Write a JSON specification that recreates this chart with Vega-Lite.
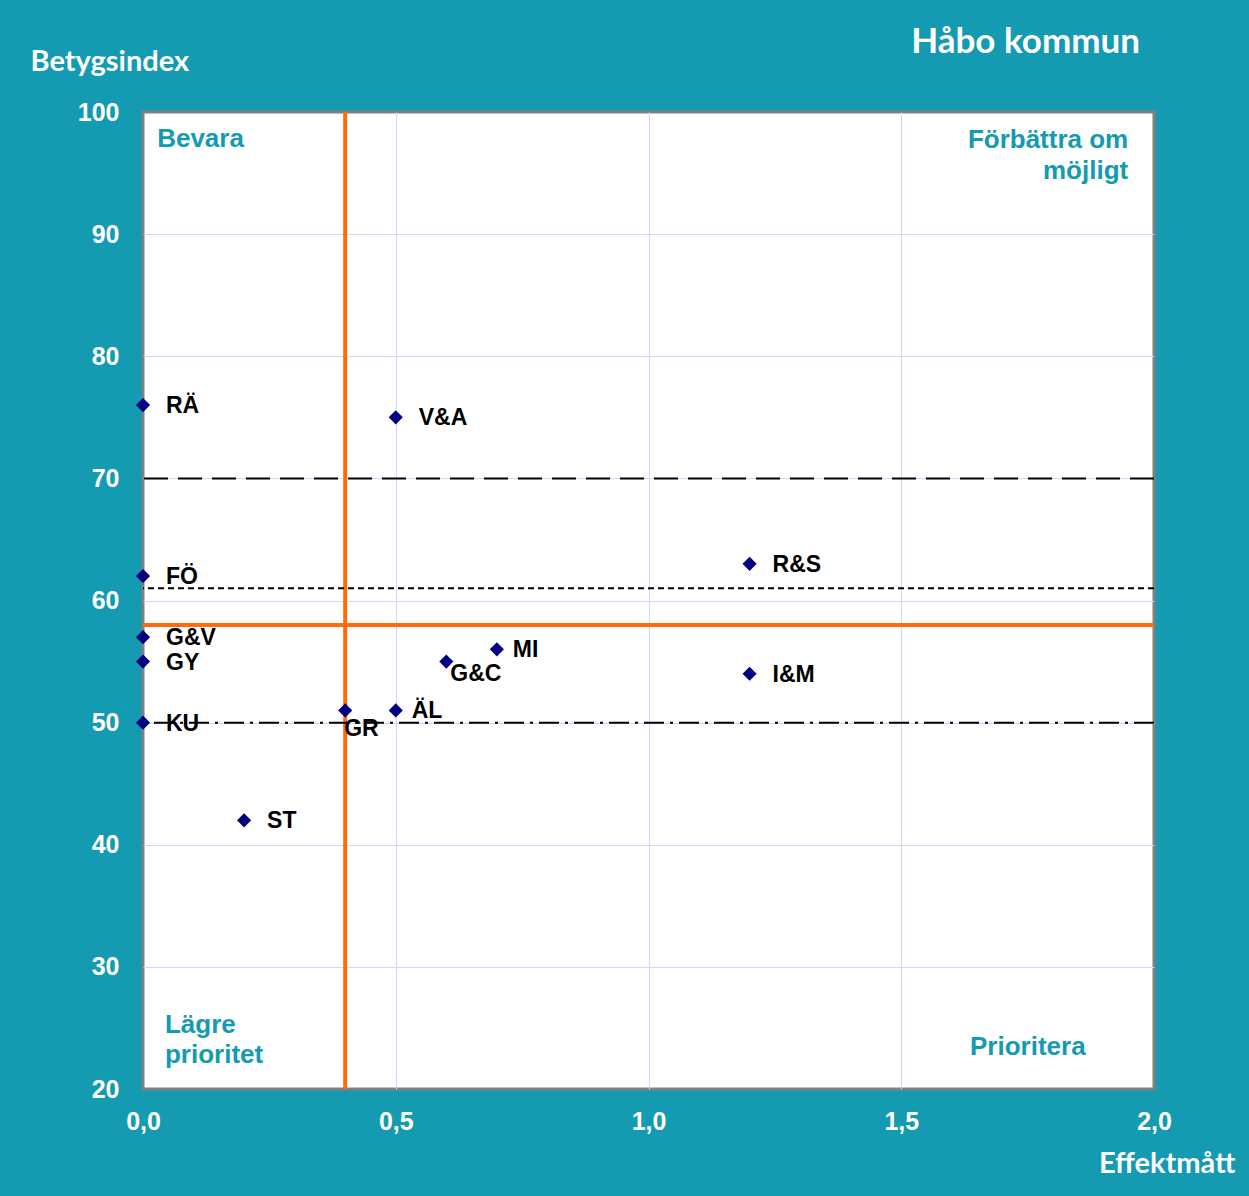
{
  "$schema": "https://vega.github.io/schema/vega-lite/v6.json",
  "width": 1011,
  "height": 977,
  "autosize": {"type": "none"},
  "padding": {"left": 143, "top": 112, "right": 95, "bottom": 107},
  "background": "#149AB1",
  "title": {
    "text": "Håbo kommun",
    "anchor": "end",
    "frame": "group",
    "dx": -14,
    "offset": -13,
    "color": "white",
    "font": "Lato",
    "fontSize": 35,
    "fontWeight": "bold"
  },
  "config": {
    "view": {"fill": "white", "stroke": "#808080", "strokeWidth": 3},
    "axis": {
      "labelColor": "white",
      "labelFont": "Liberation Sans",
      "labelFontWeight": "bold",
      "labelFontSize": 25,
      "labelFlush": false,
      "gridWidth": 1,
      "gridOpacity": 1,
      "ticks": false,
      "domain": false,
      "titleColor": "white",
      "titleFont": "Lato",
      "titleFontSize": 29,
      "titleFontWeight": "bold"
    }
  },
  "datasets": {
    "points": [
      {"kod": "RÄ", "effekt": 0.0, "index": 76},
      {"kod": "V&A", "effekt": 0.5, "index": 75},
      {"kod": "FÖ", "effekt": 0.0, "index": 62},
      {"kod": "R&S", "effekt": 1.2, "index": 63},
      {"kod": "G&V", "effekt": 0.0, "index": 57},
      {"kod": "GY", "effekt": 0.0, "index": 55},
      {"kod": "MI", "effekt": 0.7, "index": 56},
      {"kod": "G&C", "effekt": 0.6, "index": 55},
      {"kod": "I&M", "effekt": 1.2, "index": 54},
      {"kod": "GR", "effekt": 0.4, "index": 51},
      {"kod": "ÄL", "effekt": 0.5, "index": 51},
      {"kod": "KU", "effekt": 0.0, "index": 50},
      {"kod": "ST", "effekt": 0.2, "index": 42}
    ],
    "quadrants": [
      {"label": "Bevara", "effekt": 0.028, "index": 97.8, "pos": "tl"},
      {"label": "Förbättra om\nmöjligt", "effekt": 1.949, "index": 98.8, "pos": "tr"},
      {"label": "Lägre\nprioritet", "effekt": 0.0435, "index": 26.3, "pos": "bl"},
      {"label": "Prioritera", "effekt": 1.636, "index": 23.44, "pos": "br"}
    ],
    "one": [{}]
  },
  "layer": [
    {
      "data": {"name": "points"},
      "mark": {"type": "point", "opacity": 0},
      "encoding": {
        "x": {
          "field": "effekt",
          "type": "quantitative",
          "scale": {"domain": [0, 2], "nice": false, "zero": false},
          "axis": {
            "values": [0, 0.5, 1, 1.5, 2],
            "labelExpr": "replace(format(datum.value, '.1f'), '.', ',')",
            "labelPadding": 20,
            "gridColor": {"condition": {"test": "datum.value == 0 || datum.value == 2", "value": "transparent"}, "value": "#D4D4FF"},
            "title": "Effektmått",
            "titleAnchor": "end",
            "titleAlign": "right",
            "titleBaseline": "middle",
            "titleX": 1092,
            "titleY": 74
          }
        },
        "y": {
          "field": "index",
          "type": "quantitative",
          "scale": {"domain": [20, 100], "nice": false, "zero": false},
          "axis": {
            "values": [20, 30, 40, 50, 60, 70, 80, 90, 100],
            "labelPadding": 24,
            "gridColor": {"condition": {"test": "datum.value == 20 || datum.value == 100", "value": "transparent"}, "value": "#D4D4FF"},
            "title": "Betygsindex",
            "titleAngle": 0,
            "titleAlign": "left",
            "titleBaseline": "middle",
            "titleX": -113,
            "titleY": -51
          }
        }
      }
    },
    {
      "data": {"name": "one"},
      "mark": {"type": "rule", "color": "#FF6A0A", "strokeWidth": 4},
      "encoding": {"x": {"datum": 0.4}}
    },
    {
      "data": {"name": "one"},
      "mark": {"type": "rule", "color": "#FF6A0A", "strokeWidth": 4},
      "encoding": {"y": {"datum": 58}}
    },
    {
      "data": {"name": "one"},
      "mark": {"type": "rule", "color": "black", "strokeWidth": 2, "strokeDash": [24, 10]},
      "encoding": {"y": {"datum": 70}}
    },
    {
      "data": {"name": "one"},
      "mark": {"type": "rule", "color": "black", "strokeWidth": 2, "strokeDash": [6, 4]},
      "encoding": {"y": {"datum": 61}}
    },
    {
      "data": {"name": "one"},
      "mark": {"type": "rule", "color": "black", "strokeWidth": 2, "strokeDash": [20, 6, 3, 6]},
      "encoding": {"y": {"datum": 50}}
    },
    {
      "data": {"name": "points"},
      "mark": {"type": "point", "shape": "diamond", "filled": true, "color": "#000080", "size": 200, "opacity": 1},
      "encoding": {
        "x": {"field": "effekt", "type": "quantitative"},
        "y": {"field": "index", "type": "quantitative"}
      }
    },
    {
      "data": {"name": "points"},
      "transform": [{"filter": "datum.kod != 'GR' && datum.kod != 'G&C' && datum.kod != 'MI' && datum.kod != 'ÄL'"}],
      "mark": {"type": "text", "align": "left", "baseline": "middle", "dx": 23, "dy": 1, "font": "Liberation Sans", "fontWeight": "bold", "fontSize": 23, "color": "black"},
      "encoding": {
        "x": {"field": "effekt", "type": "quantitative"},
        "y": {"field": "index", "type": "quantitative"},
        "text": {"field": "kod"}
      }
    },
    {
      "data": {"name": "points"},
      "transform": [{"filter": "datum.kod == 'MI' || datum.kod == 'ÄL'"}],
      "mark": {"type": "text", "align": "left", "baseline": "middle", "dx": 16, "dy": 1, "font": "Liberation Sans", "fontWeight": "bold", "fontSize": 23, "color": "black"},
      "encoding": {
        "x": {"field": "effekt", "type": "quantitative"},
        "y": {"field": "index", "type": "quantitative"},
        "text": {"field": "kod"}
      }
    },
    {
      "data": {"name": "points"},
      "transform": [{"filter": "datum.kod == 'GR'"}],
      "mark": {"type": "text", "align": "left", "baseline": "middle", "dx": -1, "dy": 19, "font": "Liberation Sans", "fontWeight": "bold", "fontSize": 23, "color": "black"},
      "encoding": {
        "x": {"field": "effekt", "type": "quantitative"},
        "y": {"field": "index", "type": "quantitative"},
        "text": {"field": "kod"}
      }
    },
    {
      "data": {"name": "points"},
      "transform": [{"filter": "datum.kod == 'G&C'"}],
      "mark": {"type": "text", "align": "left", "baseline": "middle", "dx": 4, "dy": 12, "font": "Liberation Sans", "fontWeight": "bold", "fontSize": 23, "color": "black"},
      "encoding": {
        "x": {"field": "effekt", "type": "quantitative"},
        "y": {"field": "index", "type": "quantitative"},
        "text": {"field": "kod"}
      }
    },
    {
      "data": {"name": "quadrants"},
      "transform": [{"filter": "datum.pos == 'tl' || datum.pos == 'br'"}],
      "mark": {"type": "text", "align": "left", "baseline": "middle", "font": "Liberation Sans", "fontWeight": "bold", "fontSize": 26, "color": "#149AB1"},
      "encoding": {
        "x": {"field": "effekt", "type": "quantitative"},
        "y": {"field": "index", "type": "quantitative"},
        "text": {"field": "label"}
      }
    },
    {
      "data": {"name": "quadrants"},
      "transform": [{"filter": "datum.pos == 'tr'"}],
      "mark": {"type": "text", "align": "right", "baseline": "top", "lineBreak": "\n", "lineHeight": 31, "font": "Liberation Sans", "fontWeight": "bold", "fontSize": 26, "color": "#149AB1"},
      "encoding": {
        "x": {"field": "effekt", "type": "quantitative"},
        "y": {"field": "index", "type": "quantitative"},
        "text": {"field": "label"}
      }
    },
    {
      "data": {"name": "quadrants"},
      "transform": [{"filter": "datum.pos == 'bl'"}],
      "mark": {"type": "text", "align": "left", "baseline": "top", "lineBreak": "\n", "lineHeight": 30, "font": "Liberation Sans", "fontWeight": "bold", "fontSize": 26, "color": "#149AB1"},
      "encoding": {
        "x": {"field": "effekt", "type": "quantitative"},
        "y": {"field": "index", "type": "quantitative"},
        "text": {"field": "label"}
      }
    }
  ]
}
